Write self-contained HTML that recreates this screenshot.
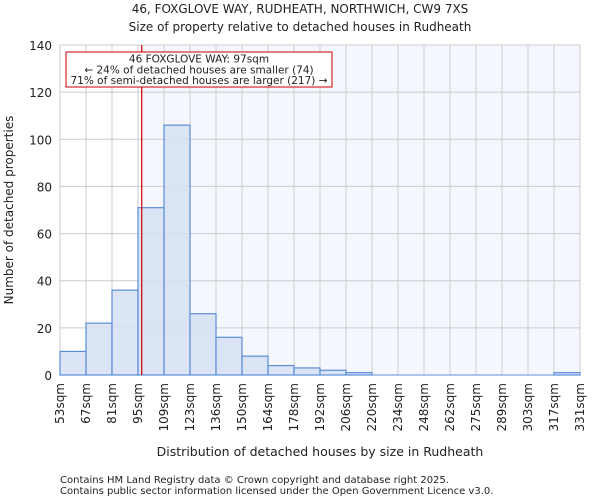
<!DOCTYPE html>
<html><head><meta charset="utf-8"><style>
body{margin:0;background:#fff;font-family:"DejaVu Sans","Liberation Sans",sans-serif;}
svg text{font-family:"DejaVu Sans","Liberation Sans",sans-serif;fill:#222;}
</style></head><body>
<svg id="chart" width="600" height="500" xmlns="http://www.w3.org/2000/svg">
<text x="300" y="13" font-size="12" text-anchor="middle">46, FOXGLOVE WAY, RUDHEATH, NORTHWICH, CW9 7XS</text>
<text x="300" y="31" font-size="12" text-anchor="middle">Size of property relative to detached houses in Rudheath</text>
<g id="plot"></g>
<text x="320" y="456" font-size="12.5" text-anchor="middle">Distribution of detached houses by size in Rudheath</text>
<text transform="translate(13,210) rotate(-90)" font-size="12" text-anchor="middle">Number of detached properties</text>
<text x="60" y="483" font-size="10" fill="#444">Contains HM Land Registry data © Crown copyright and database right 2025.</text>
<text x="60" y="494" font-size="10" fill="#444">Contains public sector information licensed under the Open Government Licence v3.0.</text>
</svg>
<script>
const binLabels=["53sqm","67sqm","81sqm","95sqm","109sqm","123sqm","136sqm","150sqm","164sqm","178sqm","192sqm","206sqm","220sqm","234sqm","248sqm","262sqm","275sqm","289sqm","303sqm","317sqm","331sqm"];
const binEdges=[53,67,81,95,109,123,136,150,164,178,192,206,220,234,248,262,275,289,303,317,331];
const counts=[10,22,36,71,106,26,16,8,4,3,2,1,0,0,0,0,0,0,0,1];
const yTicks=[0,20,40,60,80,100,120,140];
const propertySize=97;
const NS="http://www.w3.org/2000/svg";
const L=60,R=580,T=45,B=375,yMax=140;
const nb=counts.length,bw=(R-L)/nb;
function xIdx(i){return L+i*bw;}
function xVal(v){for(let i=0;i<binEdges.length-1;i++){if(v<=binEdges[i+1])return xIdx(i)+bw*(v-binEdges[i])/(binEdges[i+1]-binEdges[i]);}return R;}
function y(v){return B-(v/yMax)*(B-T);}
const g=document.getElementById('plot');
function mk(t,a){const e=document.createElementNS(NS,t);for(const k in a)e.setAttribute(k,a[k]);g.appendChild(e);return e;}
const lx=xVal(propertySize);
let e=mk('rect',{x:lx,y:T,width:R-lx,height:B-T,fill:'#f5f7fe'});


for(let i=0;i<=nb;i++){e=mk('line',{x1:xIdx(i),x2:xIdx(i),y1:T,y2:B,stroke:'#cccccc','stroke-width':1});

}
yTicks.forEach(t=>{e=mk('line',{x1:L,x2:R,y1:y(t),y2:y(t),stroke:'#cccccc','stroke-width':1});


e=mk('text',{x:L-8,y:y(t)+5,'font-size':12,'text-anchor':'end'});e.textContent=t;

});
counts.forEach((c,i)=>{if(c<=0)return;e=mk('rect',{x:xIdx(i),y:y(c),width:bw,height:B-y(c),fill:'#d6e1f3','fill-opacity':0.85,stroke:'#5b8dd9','stroke-width':1.2});

});
binLabels.forEach((l,i)=>{const x=xIdx(i);e=mk('text',{transform:`translate(${x+4},${B+8}) rotate(-90)`,'font-size':12,'text-anchor':'end'});e.textContent=l;

});
e=mk('line',{x1:L,x2:R,y1:B,y2:B,stroke:'#5b8dd9','stroke-width':1});


e=mk('line',{x1:lx,x2:lx,y1:T,y2:B,stroke:'#cc0000','stroke-width':1.2});


e=mk('rect',{x:66,y:52,width:266,height:35,fill:'#fff',stroke:'#cc0000','stroke-width':1});


const ann=["46 FOXGLOVE WAY: 97sqm","← 24% of detached houses are smaller (74)","71% of semi-detached houses are larger (217) →"];
ann.forEach((t,i)=>{e=mk('text',{x:199,y:62.5+i*10.8,'font-size':10.5,'text-anchor':'middle'});e.textContent=t;

});
</script>
</body></html>
